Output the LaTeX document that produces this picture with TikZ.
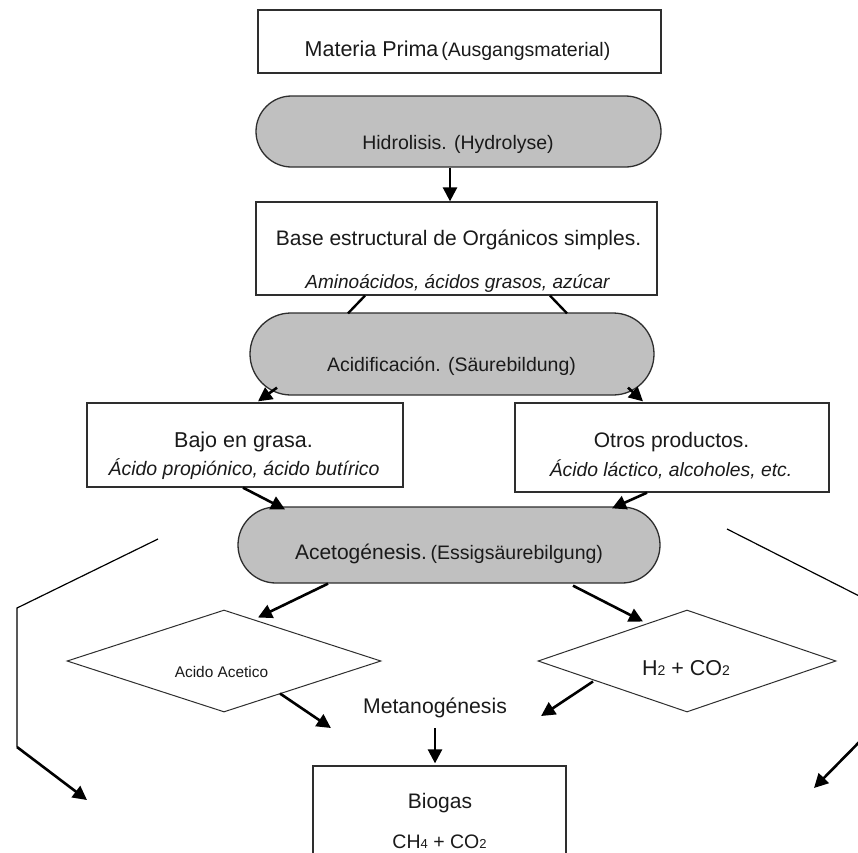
\documentclass[tikz,border=0pt]{standalone}
\usepackage{fontspec}
\setmainfont{Liberation Sans}
\usetikzlibrary{arrows.meta,shapes.geometric,shapes.misc}
\definecolor{shade}{HTML}{C0C0C0}
\definecolor{edge}{HTML}{2E2E2E}
\definecolor{ink}{HTML}{1A1A1A}
\begin{document}
\begin{tikzpicture}[x=1pt,y=-1pt,
  boxshape/.style={draw=edge,line width=1.3pt,fill=white,rectangle,inner sep=0pt},
  pill/.style={draw=edge,line width=1.3pt,fill=shade,rounded rectangle,inner sep=0pt},
  rhomb/.style={draw=edge,line width=1pt,fill=white,diamond,aspect=3,inner sep=0pt},
  txt/.style={inner sep=0pt,anchor=base,text=ink},
  arr/.style={draw=black,line width=2.6pt,-{Triangle[length=14pt,width=14pt]}},
  link/.style={draw=black,line width=2.4pt},
  thin/.style={draw=black,line width=1.2pt},
  fa/.style={font=\fontsize{21}{24}\selectfont},
  fb/.style={font=\fontsize{19.5}{22}\selectfont},
  fc/.style={font=\fontsize{19.5}{22}\selectfont\itshape}]
\clip (0,0) rectangle (858,852);
\fill[white] (0,0) rectangle (858,852);

% shapes
\node[boxshape,minimum width=403pt,minimum height=63pt] (mp) at (459.5,41.5) {};
\node[pill,minimum width=405pt,minimum height=71pt] (hid) at (458.5,131.5) {};
\node[boxshape,minimum width=401pt,minimum height=93pt] (base) at (456.5,248.5) {};
\node[pill,minimum width=404pt,minimum height=82pt] (acid) at (452,354) {};
\node[boxshape,minimum width=316pt,minimum height=84pt] (bajo) at (245,445) {};
\node[boxshape,minimum width=314pt,minimum height=89pt] (otros) at (672,447.5) {};
\node[pill,minimum width=422pt,minimum height=76pt] (aceto) at (449,545) {};
\node[rhomb,minimum width=314pt,minimum height=102pt] (dl) at (224,661) {};
\node[rhomb,minimum width=298pt,minimum height=102pt] (dr) at (687,661) {};
\node[boxshape,minimum width=253pt,minimum height=140pt] (bio) at (439.5,836) {};

% texts
\node[txt] (mpT) at (457.5,56) {{\fontsize{21.5}{24}\selectfont Materia Prima} {\fontsize{19.5}{22}\selectfont (Ausgangsmaterial)}};
\node[txt,fb] (hidT) at (458,149) {Hidrolisis. (Hydrolyse)};
\node[txt,fa] (baseT) at (458.5,245) {Base estructural de Orgánicos simples.};
\begin{scope}
\clip (base.south west) rectangle (base.north east);
\node[txt,fc,font=\fontsize{19}{22}\selectfont\itshape] (baseI) at (457.5,288) {Aminoácidos, ácidos grasos, azúcar};
\end{scope}
\draw[edge,line width=1.3pt] (base.south west) -- (base.south east);
\node[txt,fb] (acidT) at (451.5,371) {Acidificación. (Säurebildung)};
\node[txt,font=\fontsize{21.5}{24}\selectfont] (bajoT) at (243.5,447) {Bajo en grasa.};
\node[txt,fc] (bajoI) at (244,475) {Ácido propiónico, ácido butírico};
\node[txt,fa] (otrosT) at (671.5,447) {Otros productos.};
\node[txt,fc,font=\fontsize{19.3}{22}\selectfont\itshape] (otrosI) at (671,476) {Ácido láctico, alcoholes, etc.};
\node[txt] (acetoT) at (449,559) {{\fontsize{21}{24}\selectfont Acetogénesis.} {\fontsize{19.5}{22}\selectfont (Essigsäurebilgung)}};
\node[txt,font=\fontsize{15.4}{18}\selectfont] (dlT) at (221.5,677) {Acido Acetico};
\node[txt,font=\fontsize{21.5}{24}\selectfont] (drT) at (686,675) {H{\fontsize{14}{14}\selectfont 2} + CO{\fontsize{14}{14}\selectfont 2}};
\node[txt,font=\fontsize{21.2}{24}\selectfont] (met) at (435,713) {Metanogénesis};
\node[txt,fa] (bioT) at (440,808) {Biogas};
\node[txt,font=\fontsize{19.5}{22}\selectfont] (bioF) at (439.5,848) {CH{\fontsize{13}{13}\selectfont 4} + CO{\fontsize{13}{13}\selectfont 2}};

% connectors
\draw[arr] ([xshift=-8.5pt]hid.south) -- ([xshift=-6.5pt]base.north);
\draw[link] ([xshift=-91.5pt]base.south) -- ([xshift=-104pt,yshift=-1pt]acid.north);
\draw[link] ([xshift=93.5pt]base.south) -- ([xshift=115pt,yshift=-1pt]acid.north);
\draw[arr] ([xshift=-175pt,yshift=8pt]acid.south) -- ([xshift=13pt,yshift=1pt]bajo.north);
\draw[arr] ([xshift=176pt,yshift=8pt]acid.south) -- ([xshift=-29pt,yshift=1pt]otros.north);
\draw[arr] ([xshift=-2pt]bajo.south) -- ([xshift=-164pt,yshift=-3pt]aceto.north);
\draw[arr] ([xshift=-25pt]otros.south) -- ([xshift=163pt,yshift=-2pt]aceto.north);
\draw[arr] ([xshift=-121pt]aceto.south) -- ([xshift=34pt,yshift=-8pt]dl.north);
\draw[arr] ([xshift=124pt,yshift=-2pt]aceto.south) -- ([xshift=-44pt,yshift=-12pt]dr.north);
\draw[arr] ([xshift=56pt,yshift=19pt]dl.south) -- ([xshift=-32pt,yshift=-15pt]met.base west);
\draw[arr] ([xshift=-94pt,yshift=31pt]dr.south) -- ([xshift=34pt,yshift=-3pt]met.base east);
\draw[arr] ([yshift=-15pt]met.base) -- ([xshift=-4.5pt,yshift=2pt]bio.north);

% side loops
\coordinate (lA) at (158,539);
\coordinate (lB) at (17,608);
\coordinate (lC) at (17,747);
\coordinate (lD) at (87,800);
\draw[thin] (lA) -- (lB) -- (lC);
\draw[arr] (lC) -- (lD);
\coordinate (rA) at (727,529);
\coordinate (rB) at (875,604);
\coordinate (rC) at (875,726);
\coordinate (rD) at (814,788);
\draw[thin] (rA) -- (rB) -- (rC);
\draw[arr] (rC) -- (rD);
\end{tikzpicture}
\end{document}
